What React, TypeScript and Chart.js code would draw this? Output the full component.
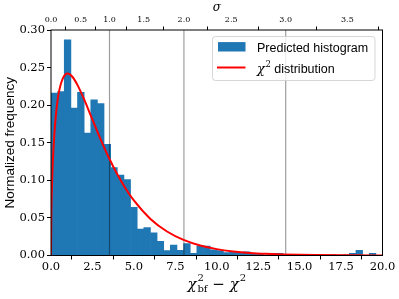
import React, { useEffect, useRef } from 'react';
import { Chart, registerables } from 'chart.js';

Chart.register(...registerables);

// Histogram: 50 bins of width 0.4 on [0, 20]
const binWidth = 0.4;
const histValues = [
  0.216, 0.218, 0.287, 0.196, 0.217, 0.163, 0.207, 0.202, 0.148, 0.117,
  0.107, 0.101, 0.064, 0.035, 0.037, 0.030, 0.019, 0.0065, 0.014, 0.007,
  0.016, 0.003, 0.0125, 0.0125, 0.0075, 0.0065, 0.004, 0.005, 0.004, 0.005,
  0.002, 0.003, 0.001, 0.003, 0.003, 0.001, 0.001, 0.0, 0.001, 0.0,
  0.0, 0.0, 0.001, 0.0, 0.001, 0.003, 0.007, 0.0, 0.003, 0.0,
];
const binCenters = histValues.map((_, i) => (i + 0.5) * binWidth);

// chi^2 distribution curve
const curveX = [0, 0.02, 0.05, 0.1, 0.2, 0.3, 0.4, 0.5, 0.7, 1.0, 1.3, 1.6, 2.0, 2.5, 3.0, 3.5, 4.0, 4.5, 5, 6, 7, 8, 9, 10, 11, 12, 13, 14, 15, 16, 18, 20];
const curveY = [0, 0.056, 0.087, 0.120, 0.161, 0.188, 0.207, 0.220, 0.235, 0.242, 0.2375, 0.2267, 0.2076, 0.1807, 0.1542, 0.1297, 0.108, 0.0892, 0.0732, 0.0486, 0.0319, 0.0207, 0.0133, 0.0085, 0.0054, 0.0034, 0.0022, 0.0014, 0.00087, 0.00053, 0.00021, 0.00008];

// Top sigma axis
const sigmaTickValues = [0, 1.79, 3.53, 5.59, 8.02, 10.87, 14.16, 17.88];
const sigmaTickLabels = ['0.0', '0.5', '1.0', '1.5', '2.0', '2.5', '3.0', '3.5'];
const sigmaLines = [3.53, 8.02, 14.16];

const seriesNames = ['Predicted histogram', 'χ² distribution'];
const yTitle = 'Normalized frequency';
const topTitle = 'σ';

const SERIF = '"DejaVu Serif", serif';
const SANS = '"Liberation Sans", Arial, sans-serif';
const BLUE = '#1f77b4';

const decor = {
  id: 'decor',
  afterDatasetDraw(chart: any, args: any) {
    if (args.index !== 0) return;
    const { ctx, chartArea, scales } = chart;
    ctx.save();
    ctx.strokeStyle = 'rgba(0,0,0,0.38)';
    ctx.lineWidth = 1.2;
    sigmaLines.forEach((v) => {
      const px = scales.x.getPixelForValue(v);
      ctx.beginPath();
      ctx.moveTo(px, chartArea.top);
      ctx.lineTo(px, chartArea.bottom);
      ctx.stroke();
    });
    ctx.restore();
  },
  afterDraw(chart: any) {
    const { ctx, chartArea } = chart;
    ctx.save();
    // frame
    ctx.strokeStyle = '#000';
    ctx.lineWidth = 1;
    ctx.strokeRect(chartArea.left, chartArea.top, chartArea.right - chartArea.left, chartArea.bottom - chartArea.top);

    // legend
    const lx = chartArea.right - 170;
    const ly = chartArea.top + 6.5;
    const lw = 162.5;
    const lh = 44;
    const r = 3;
    ctx.beginPath();
    ctx.moveTo(lx + r, ly);
    ctx.lineTo(lx + lw - r, ly);
    ctx.arcTo(lx + lw, ly, lx + lw, ly + r, r);
    ctx.lineTo(lx + lw, ly + lh - r);
    ctx.arcTo(lx + lw, ly + lh, lx + lw - r, ly + lh, r);
    ctx.lineTo(lx + r, ly + lh);
    ctx.arcTo(lx, ly + lh, lx, ly + lh - r, r);
    ctx.lineTo(lx, ly + r);
    ctx.arcTo(lx, ly, lx + r, ly, r);
    ctx.closePath();
    ctx.fillStyle = 'rgba(255,255,255,0.8)';
    ctx.fill();
    ctx.strokeStyle = 'rgba(204,204,204,0.8)';
    ctx.lineWidth = 1;
    ctx.stroke();

    ctx.fillStyle = BLUE;
    ctx.fillRect(lx + 5.5, ly + 5.6, 27.5, 9.4);
    ctx.strokeStyle = 'red';
    ctx.lineWidth = 2;
    ctx.beginPath();
    ctx.moveTo(lx + 4.5, ly + 31);
    ctx.lineTo(lx + 33, ly + 31);
    ctx.stroke();

    ctx.fillStyle = '#000';
    ctx.textBaseline = 'alphabetic';
    ctx.textAlign = 'left';
    ctx.font = '12.5px ' + SANS;
    ctx.fillText(seriesNames[0], lx + 44.5, ly + 15);
    // chi^2 distribution
    let tx = lx + 44.5;
    const by = ly + 36;
    ctx.font = 'italic 13px ' + SERIF;
    ctx.fillText('χ', tx, by);
    tx += ctx.measureText('χ').width + 0.5;
    ctx.font = '8.5px ' + SERIF;
    ctx.fillText('2', tx, by - 6);
    tx += ctx.measureText('2').width;
    ctx.font = '12.5px ' + SANS;
    ctx.fillText(' ' + seriesNames[1].replace('χ² ', ''), tx, by);

    // x-axis title: chi^2_bf - chi^2
    const base = 289;
    const big = 'italic 15px ' + SERIF;
    const small = '10px ' + SERIF;
    const upr = '15px ' + SERIF;
    ctx.font = big;
    const wChi = ctx.measureText('χ').width;
    ctx.font = small;
    const wBf = ctx.measureText('bf').width;
    const w2 = ctx.measureText('2').width;
    ctx.font = upr;
    const wMinus = ctx.measureText(' − ').width;
    const total = wChi + 1 + wBf + wMinus + wChi + 1 + w2;
    let x = (chartArea.left + chartArea.right) / 2 - total / 2;
    ctx.font = big;
    ctx.fillText('χ', x, base);
    x += wChi + 1;
    ctx.font = small;
    ctx.fillText('2', x, base - 8);
    ctx.fillText('bf', x, base + 3);
    x += wBf;
    ctx.font = upr;
    ctx.fillText(' − ', x, base);
    x += wMinus;
    ctx.font = big;
    ctx.fillText('χ', x, base);
    x += wChi + 1;
    ctx.font = small;
    ctx.fillText('2', x, base - 8);
    ctx.restore();
  },
};

export default function App() {
  const ref = useRef<HTMLCanvasElement | null>(null);

  useEffect(() => {
    document.body.style.margin = '0';
    if (!ref.current) return;
    const chart = new Chart(ref.current, {
      type: 'bar',
      data: {
        datasets: [
          {
            type: 'bar',
            label: seriesNames[0],
            data: binCenters.map((c, i) => ({ x: c, y: histValues[i] })),
            backgroundColor: BLUE,
            borderWidth: 0,
            categoryPercentage: 1,
            barPercentage: 1,
            order: 2,
            xAxisID: 'x',
          } as any,
          {
            type: 'line',
            label: seriesNames[1],
            data: curveX.map((v, i) => ({ x: v, y: curveY[i] })),
            borderColor: '#ff0000',
            borderWidth: 2,
            pointRadius: 0,
            fill: false,
            cubicInterpolationMode: 'monotone',
            order: 1,
            xAxisID: 'x',
          } as any,
        ],
      },
      options: {
        animation: false,
        responsive: false,
        devicePixelRatio: 1,
        layout: { padding: { left: 0, right: 16.5, top: 0, bottom: 0 } },
        plugins: { legend: { display: false }, tooltip: { enabled: false } },
        scales: {
          x: {
            type: 'linear',
            position: 'bottom',
            min: 0,
            max: 20,
            offset: false,
            afterFit: (s: any) => { s.height = 43.5; },
            ticks: {
              stepSize: 2.5,
              font: { family: SERIF, size: 11.5 },
              color: '#000',
              padding: 1,
              maxRotation: 0,
              callback: (v: any) => Number(v).toFixed(1),
            },
            grid: { drawOnChartArea: false, drawTicks: true, tickLength: 4, color: '#000' },
            border: { display: false },
          },
          xTop: {
            type: 'linear',
            position: 'top',
            min: 0,
            max: 20,
            offset: false,
            afterFit: (s: any) => { s.height = 30; },
            afterBuildTicks: (s: any) => { s.ticks = sigmaTickValues.map((v) => ({ value: v })); },
            ticks: {
              font: { family: SERIF, size: 8 },
              color: '#000',
              padding: 2,
              maxRotation: 0,
              autoSkip: false,
              callback: (_v: any, i: number) => sigmaTickLabels[i],
            },
            grid: { drawOnChartArea: false, drawTicks: true, tickLength: 3.5, color: '#000' },
            border: { display: false },
            title: {
              display: true,
              text: topTitle,
              font: { family: SERIF, size: 12, style: 'italic' },
              color: '#000',
              padding: { top: 1, bottom: 0 },
            },
          },
          y: {
            type: 'linear',
            min: 0,
            max: 0.3,
            afterFit: (s: any) => { s.width = 51; },
            ticks: {
              stepSize: 0.05,
              font: { family: SERIF, size: 11.5 },
              color: '#000',
              padding: 2,
              callback: (v: any) => Number(v).toFixed(2),
            },
            grid: { drawOnChartArea: false, drawTicks: true, tickLength: 4, color: '#000' },
            border: { display: false },
            title: {
              display: true,
              text: yTitle,
              font: { family: SANS, size: 13.5 },
              color: '#000',
              padding: { top: 2, bottom: 0 },
            },
          },
        },
      },
      plugins: [decor],
    } as any);
    return () => chart.destroy();
  }, []);

  return (
    <div style={{ width: 399, height: 299 }}>
      <canvas ref={ref} width={399} height={299} style={{ display: 'block' }} />
    </div>
  );
}
